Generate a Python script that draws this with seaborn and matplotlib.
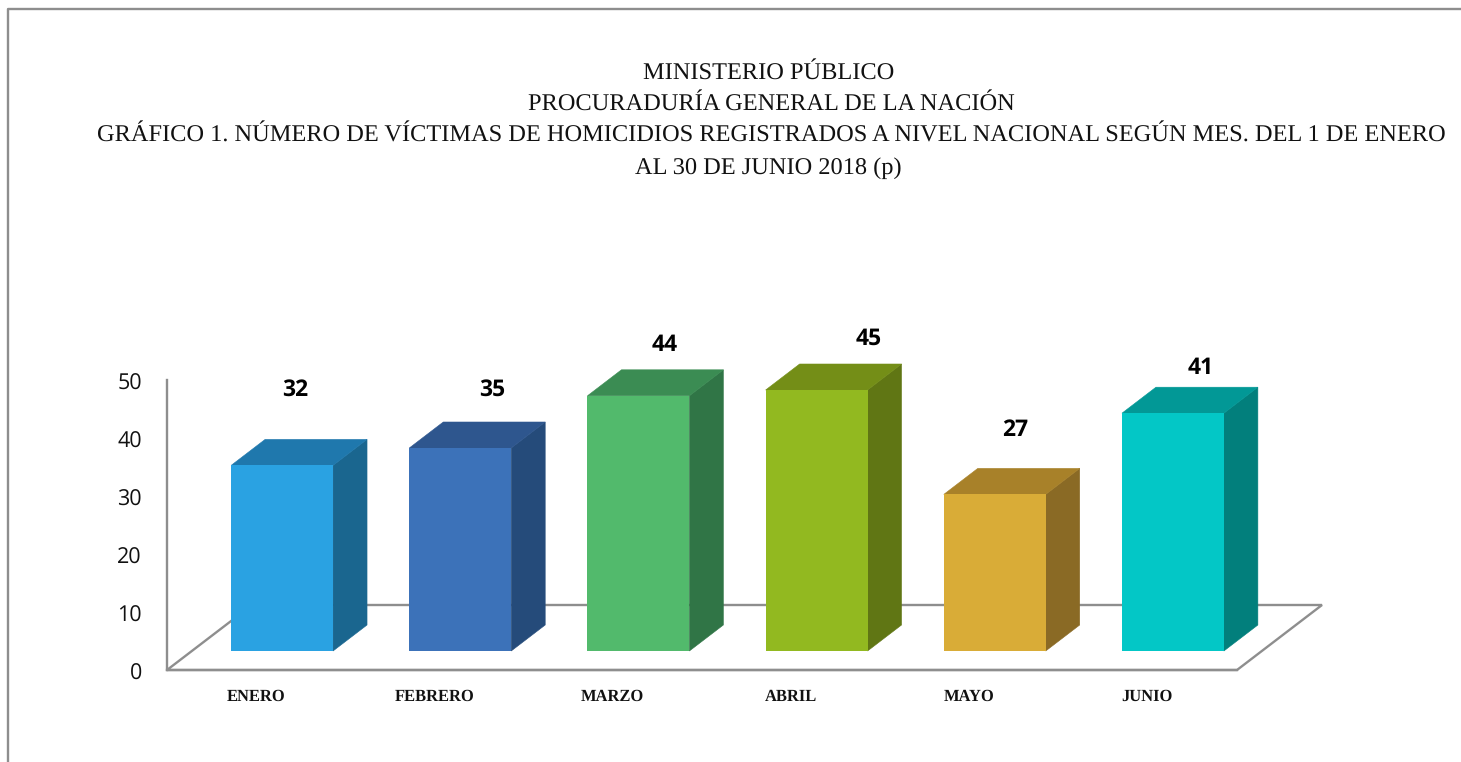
import matplotlib
matplotlib.use("Agg")
import matplotlib.pyplot as plt
from matplotlib.patches import Polygon
from matplotlib.lines import Line2D
from matplotlib.transforms import ScaledTranslation
import pandas as pd
import seaborn as sns

months = ["ENERO", "FEBRERO", "MARZO", "ABRIL", "MAYO", "JUNIO"]
victims = [32, 35, 44, 45, 27, 41]
front_colors = ["#2AA2E2", "#3C72B9", "#52BA6C", "#92B920", "#D9AC37", "#03C7C6"]
side_colors = ["#1A668F", "#254B7A", "#307546", "#607614", "#8A6A25", "#027F7C"]
top_colors = ["#1F78AD", "#2E568E", "#3B8C53", "#748E17", "#A88129", "#029896"]
title_lines = [
    "MINISTERIO PÚBLICO",
    "PROCURADURÍA GENERAL DE LA NACIÓN",
    "GRÁFICO 1. NÚMERO DE VÍCTIMAS DE HOMICIDIOS REGISTRADOS A NIVEL NACIONAL SEGÚN MES. DEL 1 DE ENERO",
    "AL 30 DE JUNIO 2018 (p)",
]
yticks = [0, 10, 20, 30, 40, 50]

W, H = 1461, 762
GREY = "#8E8E8E"
sns.set_theme(style="white")
plt.rcParams["text.hinting"] = "no_hinting"
plt.rcParams["text.hinting_factor"] = 8
fig = plt.figure(figsize=(W / 100, H / 100), dpi=100, facecolor="white")


def axes_px(x0, x1, ytop, ybot):
    return fig.add_axes([x0 / W, 1 - ybot / H, (x1 - x0) / W, (ybot - ytop) / H])


# Axis frame with the floor of the fake 3D chart
ax_frame = axes_px(167, 1237, 380, 670)
ax_frame.patch.set_alpha(0)
ax_frame.set_xlim(-0.5, 5.504)
ax_frame.set_ylim(0, 50)
ax_frame.set_xticks(range(len(months)))
ax_frame.set_xticklabels(months, family="Liberation Serif", weight="bold", fontsize=11.9, color="#111111")
ax_frame.set_yticks(yticks)
ax_frame.set_yticklabels(yticks, family="Open Sans", fontsize=15.5, color="#111111")
ax_frame.tick_params(axis="x", length=0, pad=14)
ax_frame.tick_params(axis="y", length=0, pad=18)
shift_down = ScaledTranslation(0, -1.2 / 100, fig.dpi_scale_trans)
for lab in ax_frame.get_yticklabels():
    lab.set_transform(lab.get_transform() + shift_down)
for name, spine in ax_frame.spines.items():
    spine.set_visible(name in ("left", "bottom"))
    spine.set_color(GREY)
    spine.set_linewidth(1.7)
floor_dx, floor_dy = 85 / 178.2, 65 / 5.8
x0, x1 = ax_frame.get_xlim()
ax_frame.add_patch(Polygon(
    [(x0, 0), (x1, 0), (x1 + floor_dx, floor_dy), (x0 + floor_dx, floor_dy)],
    closed=True, facecolor="none", edgecolor=GREY, linewidth=1.7, clip_on=False,
))

# Bars
ax = axes_px(193, 1262, 361, 651)
ax.patch.set_alpha(0)
df = pd.DataFrame({"mes": months, "victimas": victims})
sns.barplot(data=df, x="mes", y="victimas", hue="mes", palette=front_colors, width=0.572,
            saturation=1, legend=False, linewidth=0, edgecolor="none", ax=ax)
ax.set_xlim(-0.5, 5.5)
ax.set_ylim(0, 50)
ax.axis("off")

depth_x, depth_y = 34 / 178.2, 26 / 5.8
label_offsets = [(13, 76), (32, 58), (26, 51), (52, 51), (20, 64), (28, 45)]
for bar, side, top, val, off in zip(ax.patches, side_colors, top_colors, victims, label_offsets):
    l, w, h = bar.get_x(), bar.get_width(), bar.get_height()
    r = l + w
    ax.add_patch(Polygon([(r, 0), (r + depth_x, depth_y), (r + depth_x, h + depth_y), (r, h)],
                         closed=True, facecolor=side, edgecolor=side, linewidth=0.4, clip_on=False, zorder=1))
    ax.add_patch(Polygon([(l, h), (r, h), (r + depth_x, h + depth_y), (l + depth_x, h + depth_y)],
                         closed=True, facecolor=top, edgecolor=top, linewidth=0.4, clip_on=False, zorder=1))
    bar.set_zorder(2)
    ax.annotate(str(val), (l + w / 2, h), xytext=(off[0] * 0.72, off[1] * 0.72), textcoords="offset points",
                ha="center", va="center", family="Open Sans", weight="bold", fontsize=16.5, color="black",
                annotation_clip=False)

# Title
title_pos = [(768.5, 73), (771, 104), (771, 136), (768, 168)]
for line, (tx, ty) in zip(title_lines, title_pos):
    fig.text(tx / W, 1 - ty / H, line, ha="center", va="center", family="Liberation Serif",
             fontsize=17.52, color="#111111")

# Outer border
fig.add_artist(Line2D([8 / W, 8 / W, 1], [0, 1 - 9 / H, 1 - 9 / H], color=GREY, linewidth=1.7,
                      transform=fig.transFigure))

fig.savefig("out.png", dpi=100, facecolor="white")
